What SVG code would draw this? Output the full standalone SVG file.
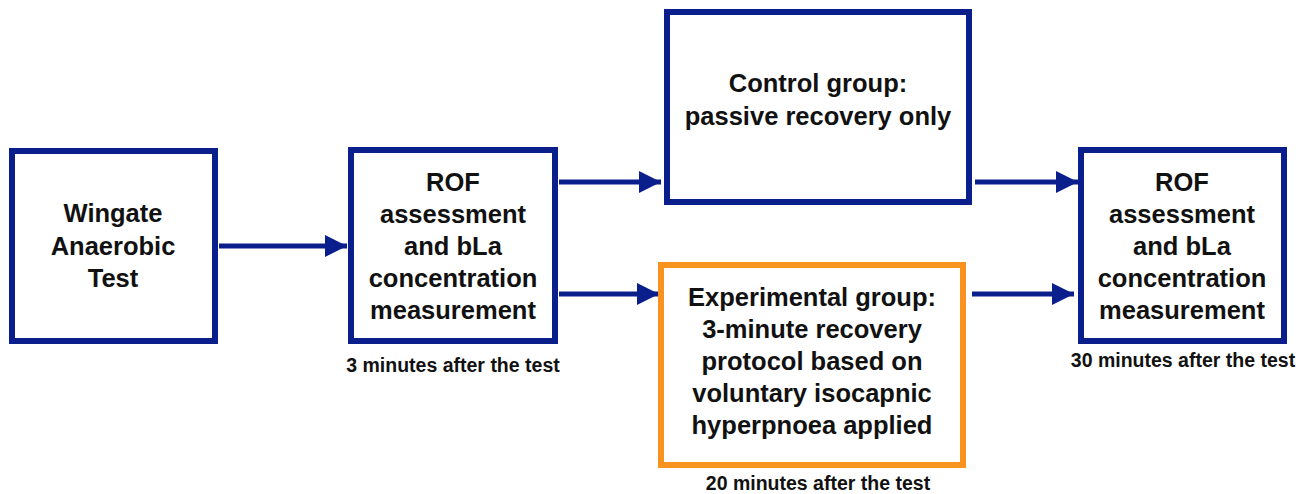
<svg xmlns="http://www.w3.org/2000/svg" width="1306" height="494" viewBox="0 0 1306 494">
<style>
.box{fill:#fff;stroke:#0B1F8C;stroke-width:6}
.obox{fill:#fff;stroke:#F7931E;stroke-width:6}
.t{font-family:"Liberation Sans",Arial,sans-serif;font-weight:bold;font-size:25.5px;fill:#111;text-anchor:middle}
.s{font-family:"Liberation Sans",Arial,sans-serif;font-weight:bold;font-size:19.5px;fill:#111;text-anchor:middle}
.c{stroke:#0B1F8C;stroke-width:5;fill:none;marker-end:url(#ah)}
</style>
<defs>
<marker id="ah" viewBox="0 0 22 22" refX="22" refY="11" markerWidth="22" markerHeight="22" markerUnits="userSpaceOnUse" orient="auto">
<path d="M0,0 L22,11 L0,22 z" fill="#0B1F8C"/>
</marker>
</defs>
<rect width="1306" height="494" fill="#fff"/>
<g id="connectors">
<line class="c" x1="219" y1="246" x2="347" y2="246"/>
<line class="c" x1="559" y1="182" x2="661" y2="182"/>
<line class="c" x1="559" y1="294" x2="659" y2="294"/>
<line class="c" x1="975" y1="182" x2="1078" y2="182"/>
<line class="c" x1="972" y1="294" x2="1074" y2="294"/>
</g>
<g id="wingate">
<rect class="box" x="12" y="151" width="203" height="190"/>
<text class="t" x="113" y="222">Wingate</text>
<text class="t" x="113" y="255">Anaerobic</text>
<text class="t" x="113" y="287">Test</text>
</g>
<g id="rof1">
<rect class="box" x="351" y="150" width="204" height="191"/>
<text class="t" x="453" y="191">ROF</text>
<text class="t" x="453" y="223">assessment</text>
<text class="t" x="453" y="255">and bLa</text>
<text class="t" x="453" y="287">concentration</text>
<text class="t" x="453" y="319">measurement</text>
<text class="s" x="453" y="372">3 minutes after the test</text>
</g>
<g id="control">
<rect class="box" x="667" y="12" width="302" height="190"/>
<text class="t" x="818" y="92">Control group:</text>
<text class="t" x="818" y="125">passive recovery only</text>
</g>
<g id="experimental">
<rect class="obox" x="661" y="265" width="302" height="200"/>
<text class="t" x="812" y="306">Experimental group:</text>
<text class="t" x="812" y="338">3-minute recovery</text>
<text class="t" x="812" y="370">protocol based on</text>
<text class="t" x="812" y="402">voluntary isocapnic</text>
<text class="t" x="812" y="434">hyperpnoea applied</text>
<text class="s" x="818" y="490">20 minutes after the test</text>
</g>
<g id="rof2">
<rect class="box" x="1081" y="150" width="203" height="191"/>
<text class="t" x="1182" y="191">ROF</text>
<text class="t" x="1182" y="223">assessment</text>
<text class="t" x="1182" y="255">and bLa</text>
<text class="t" x="1182" y="287">concentration</text>
<text class="t" x="1182" y="319">measurement</text>
<text class="s" x="1183" y="367">30 minutes after the test</text>
</g>
</svg>
